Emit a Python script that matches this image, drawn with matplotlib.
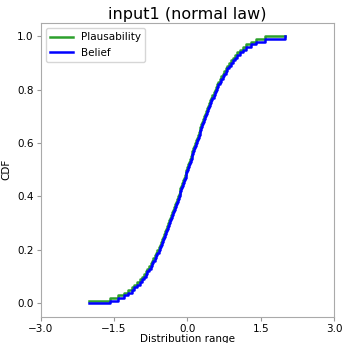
import matplotlib
matplotlib.use("Agg")
import matplotlib.pyplot as plt

# Step positions (x where the CDFs jump by 0.01)
step_x = [-1.58, -1.41, -1.30, -1.21, -1.14, -1.08, -1.02, -0.975, -0.931, -0.890,
          -0.853, -0.818, -0.783, -0.751, -0.721, -0.692, -0.664, -0.637, -0.611, -0.586,
          -0.561, -0.538, -0.515, -0.492, -0.470, -0.448, -0.427, -0.406, -0.386, -0.365,
          -0.346, -0.326, -0.307, -0.288, -0.268, -0.250, -0.231, -0.213, -0.195, -0.176,
          -0.159, -0.141, -0.123, -0.106, -0.088, -0.070, -0.053, -0.035, -0.018, 0.0,
          0.018, 0.035, 0.053, 0.070, 0.088, 0.106, 0.123, 0.141, 0.159, 0.176,
          0.195, 0.213, 0.231, 0.250, 0.268, 0.288, 0.307, 0.326, 0.346, 0.365,
          0.386, 0.406, 0.427, 0.448, 0.470, 0.492, 0.515, 0.538, 0.561, 0.586,
          0.611, 0.637, 0.664, 0.692, 0.721, 0.751, 0.783, 0.818, 0.853, 0.890,
          0.931, 0.975, 1.02, 1.08, 1.14, 1.21, 1.30, 1.41, 1.58]

# Plausibility CDF levels after each step (starts at 0.01 at x=-2)
plaus_levels = [0.01, 0.02, 0.03, 0.04, 0.05, 0.06, 0.07, 0.08, 0.09, 0.10, 0.11,
                0.12, 0.13, 0.14, 0.15, 0.16, 0.17, 0.18, 0.19, 0.20, 0.21,
                0.22, 0.23, 0.24, 0.25, 0.26, 0.27, 0.28, 0.29, 0.30, 0.31,
                0.32, 0.33, 0.34, 0.35, 0.36, 0.37, 0.38, 0.39, 0.40, 0.41,
                0.42, 0.43, 0.44, 0.45, 0.46, 0.47, 0.48, 0.49, 0.50, 0.51,
                0.52, 0.53, 0.54, 0.55, 0.56, 0.57, 0.58, 0.59, 0.60, 0.61,
                0.62, 0.63, 0.64, 0.65, 0.66, 0.67, 0.68, 0.69, 0.70, 0.71,
                0.72, 0.73, 0.74, 0.75, 0.76, 0.77, 0.78, 0.79, 0.80, 0.81,
                0.82, 0.83, 0.84, 0.85, 0.86, 0.87, 0.88, 0.89, 0.90, 0.91,
                0.92, 0.93, 0.94, 0.95, 0.96, 0.97, 0.98, 0.99, 1.00]
# Belief CDF levels (starts at 0.0 at x=-2, reaches 1.0 only at x=2)
belief_levels = [0.00] + plaus_levels[:-1]

x_min, x_max = -2.0, 2.0
x_ticks = [-3.0, -1.5, 0.0, 1.5, 3.0]
y_ticks = [0.0, 0.2, 0.4, 0.6, 0.8, 1.0]

px = [x_min] + step_x + [x_max]
py = plaus_levels + [plaus_levels[-1]]
bx = [x_min] + step_x + [x_max]
by = belief_levels + [1.0]

fig = plt.figure(figsize=(3.44, 3.43), dpi=100)
ax = fig.add_axes([0.118, 0.077, 0.853, 0.856])
ax.step(px, py, where='post', color='#2ca02c', lw=1.8, label='Plausability')
ax.step(bx, by, where='post', color='#0000ff', lw=1.8, label='Belief')

ax.set_xlim(-3, 3)
ax.set_ylim(-0.05, 1.05)
ax.set_xticks(x_ticks)
ax.set_yticks(y_ticks)
ax.set_xticklabels(['\u22123.0', '\u22121.5', '0.0', '1.5', '3.0'])
ax.tick_params(labelsize=7.5, color='#999999', length=3, width=0.8, pad=2)
for s in ax.spines.values():
    s.set_color('#aaaaaa')
    s.set_linewidth(0.8)
ax.set_title('input1 (normal law)', fontsize=11.5, pad=3)
ax.set_xlabel('Distribution range', fontsize=7.5, labelpad=0)
ax.set_ylabel('CDF', fontsize=7.5, labelpad=4)
ax.legend(loc='upper left', fontsize=7.5, handlelength=2.2, borderaxespad=0.5)
fig.savefig('out.png', dpi=100)
